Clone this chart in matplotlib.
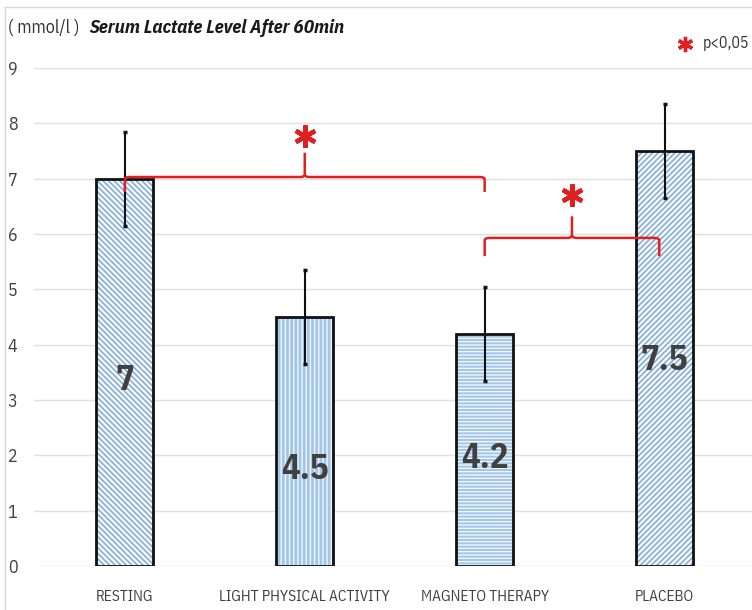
import matplotlib
matplotlib.use("Agg")
import matplotlib.pyplot as plt
from matplotlib.path import Path
from matplotlib.patches import PathPatch
from matplotlib.lines import Line2D

# Data
categories = ["RESTING", "LIGHT PHYSICAL ACTIVITY", "MAGNETO THERAPY", "PLACEBO"]
values = [7.0, 4.5, 4.2, 7.5]
errors = [0.85, 0.85, 0.85, 0.85]
value_labels = ["7", "4.5", "4.2", "7.5"]
hatches = ["\\" * 6, "|" * 4, "-" * 5, "/" * 6]
y_ticks = [0, 1, 2, 3, 4, 5, 6, 7, 8, 9]

FONT = ["IBM Plex Sans Condensed", "Lato", "DejaVu Sans"]
plt.rcParams["font.family"] = FONT
plt.rcParams["hatch.linewidth"] = 1.0

fig = plt.figure(figsize=(7.52, 6.10), dpi=100)
ax = fig.add_axes([0.0452, 0.0721, 0.957, 0.8164])

x = list(range(len(categories)))
face_colors = ["#f2f7fc", "#a3c5e6", "#a3c5e6", "#f2f7fc"]
hatch_colors = ["#7ba5cd", "#eef6fd", "#eef6fd", "#7ba5cd"]
width = 0.317

for xi, v, h, fc, hc in zip(x, values, hatches, face_colors, hatch_colors):
    # hatched fill
    ax.bar(xi, v, width=width, color=fc, edgecolor=hc, hatch=h, linewidth=0, zorder=2)
    # outline
    ax.bar(xi, v, width=width, facecolor="none", edgecolor="#111111", linewidth=2.0, zorder=3)

ax.errorbar(x, values, yerr=errors, fmt="none", ecolor="#111111", elinewidth=1.5,
            capsize=1.5, capthick=2.5, zorder=5)

label_y = [3.35, 1.75, 1.95, 3.72]
for xi, ly, t in zip(x, label_y, value_labels):
    ax.text(xi, ly, t, ha="center", va="center", fontsize=25, fontweight="bold",
            color="#404040", zorder=4)

# Significance brackets
RED = "#e02020"


def bracket(x1, x2, yh, ydrop, ytick, ystar):
    r = 0.025
    xm = (x1 + x2) / 2
    verts = [
        (x1, ydrop), (x1, yh - 0.05), (x1, yh), (x1 + r, yh),
        (xm - r, yh), (xm, yh), (xm, yh + 0.05), (xm, ytick),
    ]
    codes = [Path.MOVETO, Path.LINETO, Path.CURVE3, Path.CURVE3,
             Path.LINETO, Path.CURVE3, Path.CURVE3, Path.LINETO]
    ax.add_patch(PathPatch(Path(verts, codes), fill=False, edgecolor=RED, lw=1.8, zorder=6))
    verts2 = [
        (xm, yh + 0.05), (xm, yh), (xm + r, yh),
        (x2 - r, yh), (x2, yh), (x2, yh - 0.05), (x2, ydrop),
    ]
    codes2 = [Path.MOVETO, Path.CURVE3, Path.CURVE3, Path.LINETO,
              Path.CURVE3, Path.CURVE3, Path.LINETO]
    ax.add_patch(PathPatch(Path(verts2, codes2), fill=False, edgecolor=RED, lw=1.8, zorder=6))
    ax.plot([xm], [ystar], marker=(6, 2, 0), markersize=16, mew=3.2, color=RED,
            linestyle="none", zorder=6, clip_on=False)


bracket(x[0], x[2], 7.03, 6.76, 7.47, 7.78)
bracket(x[2], 2.97, 5.93, 5.6, 6.32, 6.7)

ax.set_xlim(-0.505, 3.495)
ax.set_ylim(0, 9)
ax.set_yticks(y_ticks)
ax.set_xticks(x)
ax.set_xticklabels(categories)
ax.tick_params(axis="both", length=0, labelsize=13, colors="#404040")
ax.tick_params(axis="x", pad=17, labelsize=11)
ax.tick_params(axis="y", pad=12)
ax.grid(axis="y", color="#e0e0e0", linewidth=1.0, zorder=0)
ax.set_axisbelow(True)
for s in ax.spines.values():
    s.set_visible(False)

# Titles
fig.text(0.011, 0.954, "( mmol/l )", fontsize=13, color="#333333", va="center", ha="left")
fig.text(0.119, 0.954, "Serum Lactate Level After 60min", fontsize=13.6, fontweight="bold",
         fontstyle="italic", color="#1a1a1a", va="center", ha="left")

# Significance key
fig.add_artist(Line2D([0.9105], [0.928], marker=(6, 2, 0), markersize=11, mew=2.4,
                      color=RED, linestyle="none", transform=fig.transFigure))
fig.text(0.935, 0.929, "p<0,05", fontsize=11.3, color="#333333", va="center", ha="left")

# Frame lines of the chart area
fig.add_artist(Line2D([0.007, 0.007], [0.0, 0.988], color="#d9d9d9", lw=1.0,
                      transform=fig.transFigure))
fig.add_artist(Line2D([0.007, 1.0], [0.988, 0.988], color="#d9d9d9", lw=1.0,
                      transform=fig.transFigure))

fig.savefig("out.png", dpi=100)
